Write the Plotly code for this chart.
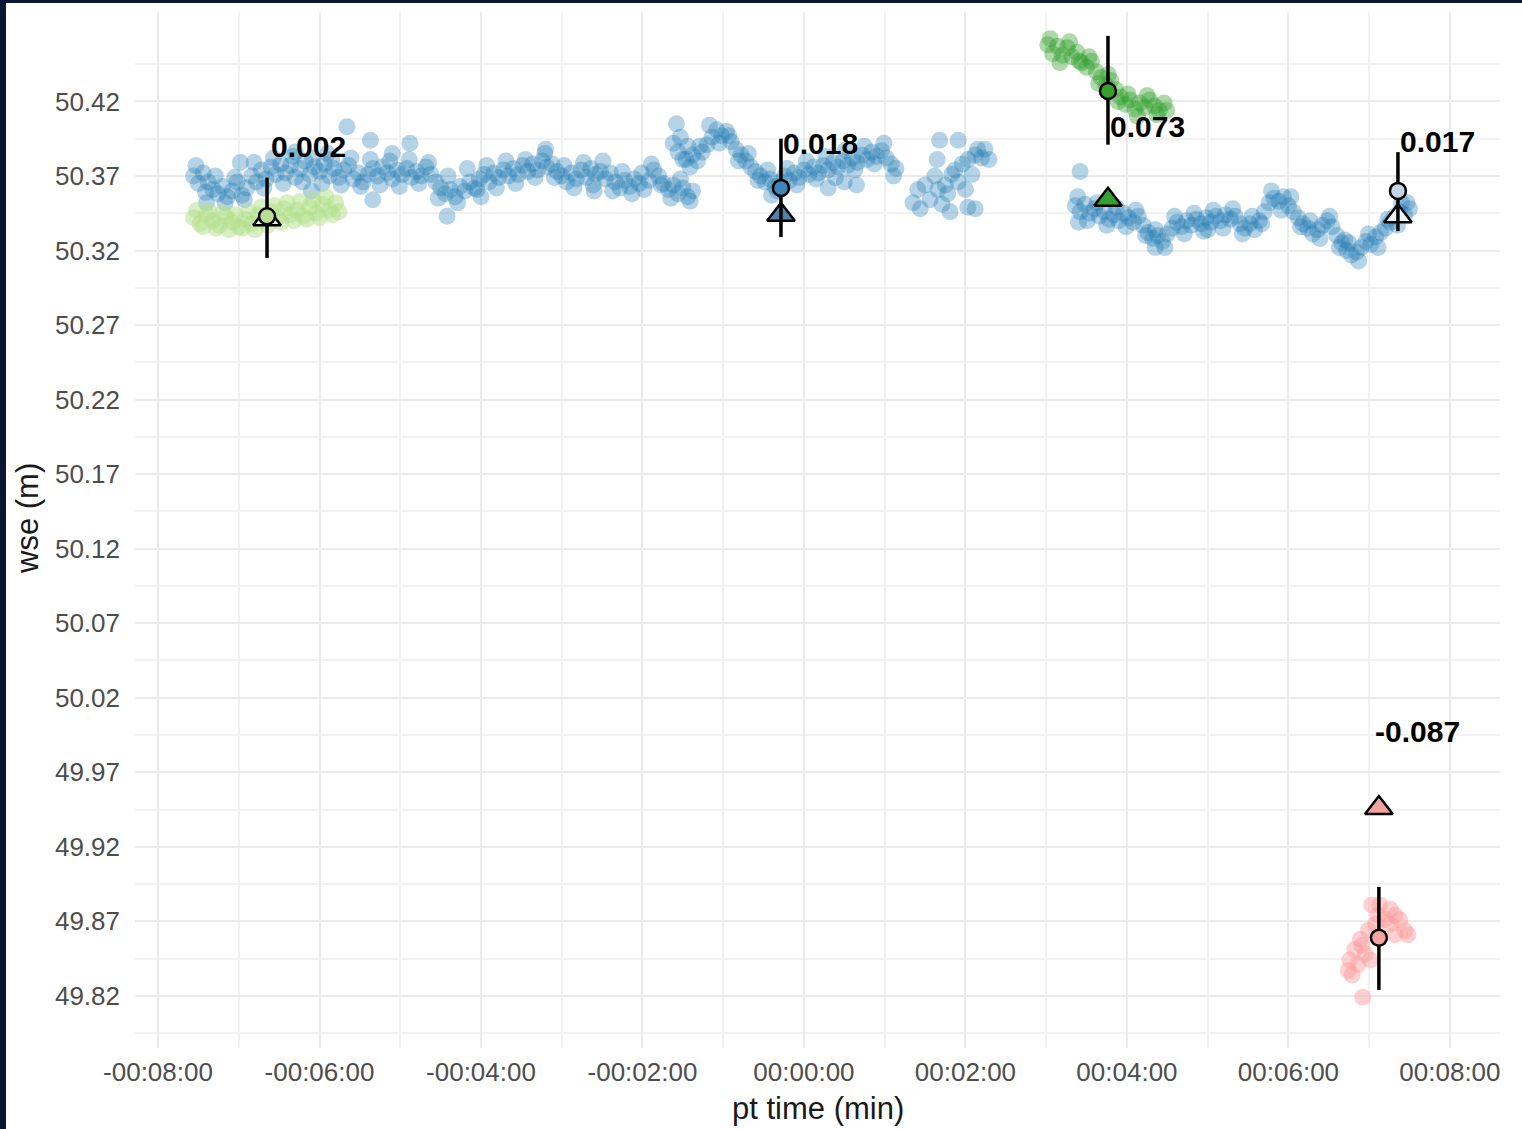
import plotly.graph_objects as go

# ---- pt time (minutes) and water surface elevation (m) samples ----
blue_t = [
    -7.56, -7.50, -7.44, -7.38, -7.32, -7.26, -7.20, -7.14, -7.08, -7.02,
    -6.96, -6.90, -6.84, -6.78, -6.72, -6.66, -6.60, -6.54, -6.48, -6.42,
    -6.36, -6.30, -6.24, -6.18, -6.12, -6.06, -6.00, -5.94, -5.88, -5.82,
    -5.76, -5.70, -5.64, -5.58, -5.52, -5.46, -5.40, -5.34, -5.28, -5.22,
    -5.16, -5.10, -5.04, -4.98, -4.92, -4.86, -4.80, -4.74, -4.68, -4.62,
    -4.56, -4.50, -4.44, -4.38, -4.32, -4.26, -4.20, -4.14, -4.08, -4.02,
    -3.96, -3.90, -3.84, -3.78, -3.72, -3.66, -3.60, -3.54, -3.48, -3.42,
    -3.36, -3.30, -3.24, -3.18, -3.12, -3.06, -3.00, -2.94, -2.88, -2.82,
    -2.76, -2.70, -2.64, -2.58, -2.52, -2.46, -2.40, -2.34, -2.28, -2.22,
    -2.16, -2.10, -2.04, -1.98, -1.92, -1.86, -1.80, -1.74, -1.68, -1.62,
    -1.56, -1.50, -1.44, -1.38,
    -6.98, -5.66, -5.37, -4.88, -5.34, -4.42, -6.30, -5.90, -4.00, -3.20,
    -2.60, -7.40, -6.10, -5.10,
    -7.53, -7.41, -7.29, -7.17, -7.05, -6.93, -6.81, -6.69, -6.57, -6.45,
    -6.33, -6.21, -6.09, -5.97, -5.85, -5.73, -5.61, -5.49, -5.37, -5.25,
    -5.13, -5.01, -4.89, -4.77, -4.65, -4.53, -4.41, -4.29, -4.17, -4.05,
    -3.93, -3.81, -3.69, -3.57, -3.45, -3.33, -3.21, -3.09, -2.97, -2.85,
    -2.73, -2.61, -2.49, -2.37, -2.25, -2.13, -2.01, -1.89, -1.77, -1.65,
    -1.53, -1.41,
    -1.62, -1.58, -1.56, -1.50, -1.46, -1.44, -1.38, -1.32, -1.26, -1.20,
    -1.14, -1.08, -1.02, -0.96, -0.90, -0.84, -0.78, -0.72, -0.66, -0.60,
    -0.54, -0.48, -0.42, -0.36, -0.30, -0.24, -0.18, -0.12, -0.06, 0.00,
    0.06, 0.12, 0.18, 0.24, 0.30, 0.36, 0.42, 0.48, 0.54, 0.60,
    0.66, 0.72, 0.78, 0.84, 0.90, 0.96, 1.02, 1.08, 1.14,
    -0.40, 0.30, 0.50, 0.65,
    -1.53, -1.41, -1.29, -1.17, -1.05, -0.93, -0.81, -0.69, -0.57, -0.45,
    -0.33, -0.21, -0.09, 0.03, 0.15, 0.27, 0.39, 0.51, 0.63, 0.75,
    0.87, 0.99, 1.11,
    1.35, 1.44, 1.50, 1.56, 1.62, 1.66, 1.71, 1.75, 1.78, 1.83,
    1.87, 1.91, 1.96, 2.00, 2.03, 2.08, 2.12, 2.15, 2.20, 2.24,
    2.29, 1.68, 1.91, 1.65, 2.03, 2.12, 1.81, 1.41,
    3.36, 3.42, 3.48, 3.54, 3.60, 3.66, 3.72, 3.78, 3.84, 3.90,
    3.96, 4.02, 4.08, 4.14, 4.20, 4.26, 4.32, 4.38, 4.44, 4.50,
    4.56, 4.62, 4.68, 4.74, 4.80, 4.86, 4.92, 4.98, 5.04, 5.10,
    5.16, 5.22, 5.28, 5.34, 5.40, 5.46, 5.52, 5.58, 5.64, 5.70,
    5.76, 5.82, 5.88, 5.94, 6.00, 6.06, 6.12, 6.18, 6.24, 6.30,
    6.36, 6.42, 6.48, 6.54, 6.60, 6.66, 6.72, 6.78, 6.84, 6.90,
    6.96, 7.02, 7.08, 7.14, 7.20, 7.26, 7.32, 7.38, 7.44, 7.50,
    3.42, 7.40, 3.40, 4.35, 5.00, 6.70,
    3.39, 3.51, 3.63, 3.75, 3.87, 3.99, 4.11, 4.23, 4.35, 4.47,
    4.59, 4.71, 4.83, 4.95, 5.07, 5.19, 5.31, 5.43, 5.55, 5.67,
    5.79, 5.91, 6.03, 6.15, 6.27, 6.39, 6.51, 6.63, 6.75, 6.87,
    6.99, 7.11, 7.23, 7.35, 7.47,
]
blue_wse = [
    50.370, 50.365, 50.372, 50.366, 50.361, 50.358, 50.363, 50.356, 50.360, 50.366,
    50.357, 50.362, 50.370, 50.366, 50.374, 50.368, 50.376, 50.371, 50.378, 50.372,
    50.377, 50.369, 50.375, 50.380, 50.371, 50.376, 50.373, 50.378, 50.370, 50.375,
    50.369, 50.374, 50.377, 50.368, 50.372, 50.366, 50.371, 50.375, 50.370, 50.376,
    50.372, 50.368, 50.374, 50.371, 50.375, 50.369, 50.373, 50.370, 50.376, 50.371,
    50.366, 50.362, 50.358, 50.361, 50.356, 50.363, 50.360, 50.366, 50.362, 50.368,
    50.371, 50.366, 50.372, 50.369, 50.374, 50.370, 50.375, 50.371, 50.377, 50.373,
    50.378, 50.374, 50.380, 50.376, 50.378, 50.373, 50.370, 50.366, 50.372, 50.368,
    50.374, 50.369, 50.375, 50.371, 50.373, 50.368, 50.372, 50.366, 50.362, 50.367,
    50.363, 50.368, 50.365, 50.361, 50.367, 50.374, 50.370, 50.365, 50.361, 50.364,
    50.358, 50.362, 50.356, 50.360,
    50.379, 50.403, 50.394, 50.392, 50.354, 50.343, 50.386, 50.385, 50.356, 50.388,
    50.360, 50.352, 50.360, 50.385,
    50.377, 50.359, 50.370, 50.352, 50.369, 50.354, 50.379, 50.362, 50.382, 50.365,
    50.383, 50.366, 50.382, 50.365, 50.381, 50.364, 50.382, 50.363, 50.381, 50.364,
    50.380, 50.363, 50.381, 50.365, 50.379, 50.355, 50.370, 50.352, 50.375, 50.361,
    50.377, 50.362, 50.380, 50.365, 50.381, 50.369, 50.385, 50.369, 50.377, 50.362,
    50.379, 50.364, 50.380, 50.360, 50.373, 50.358, 50.372, 50.378, 50.364, 50.355,
    50.368, 50.353,
    50.392, 50.405, 50.386, 50.381, 50.381, 50.390, 50.384, 50.380, 50.386, 50.391,
    50.396, 50.401, 50.397, 50.400, 50.393, 50.388, 50.384, 50.380, 50.376, 50.373,
    50.370, 50.366, 50.368, 50.363, 50.366, 50.370, 50.367, 50.372, 50.369, 50.374,
    50.371, 50.376, 50.372, 50.377, 50.374, 50.379, 50.376, 50.380, 50.377, 50.382,
    50.379, 50.384, 50.381, 50.386, 50.383, 50.387, 50.382, 50.378, 50.375,
    50.357, 50.362, 50.366, 50.364,
    50.396, 50.376, 50.390, 50.404, 50.392, 50.397, 50.380, 50.385, 50.367, 50.374,
    50.360, 50.375, 50.364, 50.380, 50.368, 50.383, 50.369, 50.387, 50.374, 50.390,
    50.378, 50.392, 50.370,
    50.352, 50.348, 50.364, 50.354, 50.370, 50.361, 50.351, 50.364, 50.358, 50.371,
    50.374, 50.366, 50.378, 50.361, 50.381, 50.371, 50.384, 50.388, 50.382, 50.388,
    50.381, 50.394, 50.394, 50.381, 50.349, 50.348, 50.346, 50.361,
    50.350, 50.346, 50.351, 50.345, 50.348, 50.343, 50.346, 50.341, 50.344, 50.340,
    50.345, 50.342, 50.339, 50.343, 50.337, 50.332, 50.328, 50.330, 50.326, 50.331,
    50.335, 50.339, 50.336, 50.340, 50.337, 50.341, 50.338, 50.342, 50.339, 50.343,
    50.340, 50.344, 50.341, 50.343, 50.338, 50.335, 50.338, 50.334, 50.340, 50.346,
    50.352, 50.355, 50.353, 50.356, 50.350, 50.346, 50.342, 50.338, 50.335, 50.331,
    50.334, 50.337, 50.340, 50.336, 50.330, 50.325, 50.320, 50.317, 50.319, 50.322,
    50.326, 50.324, 50.329, 50.332, 50.335, 50.339, 50.343, 50.346, 50.344, 50.348,
    50.373, 50.352, 50.339, 50.322, 50.334, 50.327,
    50.356, 50.340, 50.352, 50.337, 50.349, 50.336, 50.347, 50.330, 50.334, 50.322,
    50.343, 50.331, 50.345, 50.333, 50.347, 50.335, 50.348, 50.331, 50.343, 50.338,
    50.360, 50.347, 50.356, 50.336, 50.340, 50.328, 50.343, 50.322, 50.325, 50.313,
    50.331, 50.322, 50.341, 50.337, 50.352,
]

lightgreen_t = [
    -7.56, -7.48, -7.40, -7.32, -7.24, -7.16, -7.08, -7.00, -6.92, -6.84,
    -6.76, -6.68, -6.60, -6.52, -6.44, -6.36, -6.28, -6.20, -6.12, -6.04,
    -5.96, -5.88, -5.80, -5.76,
    -7.52, -7.44, -7.36, -7.28, -7.20, -7.12, -7.04, -6.96, -6.88, -6.80,
    -6.72, -6.64, -6.56, -6.48, -6.40, -6.32, -6.24, -6.16, -6.08, -6.00,
    -5.92, -5.84,
]
lightgreen_wse = [
    50.342, 50.338, 50.344, 50.340, 50.337, 50.343, 50.339, 50.336, 50.341, 50.338,
    50.344, 50.340, 50.346, 50.342, 50.348, 50.344, 50.347, 50.343, 50.349, 50.345,
    50.351, 50.347, 50.352, 50.346,
    50.347, 50.336, 50.346, 50.335, 50.345, 50.334, 50.344, 50.335, 50.346, 50.334,
    50.349, 50.337, 50.350, 50.339, 50.352, 50.340, 50.353, 50.341, 50.354, 50.342,
    50.356, 50.344,
]

green_t = [
    3.02, 3.08, 3.14, 3.20, 3.26, 3.32, 3.38, 3.44, 3.50, 3.56,
    3.62, 3.68, 3.74, 3.80, 3.86, 3.92, 3.98, 4.04, 4.10, 4.16,
    4.22, 4.28, 4.34, 4.40, 4.46,
    3.05, 3.17, 3.29, 3.41, 3.53, 3.65, 3.77, 3.89, 4.01, 4.13,
    4.25, 4.37, 4.49,
]
green_wse = [
    50.458, 50.452, 50.457, 50.451, 50.456, 50.450, 50.453, 50.446, 50.443, 50.447,
    50.440, 50.436, 50.431, 50.434, 50.428, 50.423, 50.418, 50.421, 50.415, 50.419,
    50.416, 50.421, 50.417, 50.414, 50.419,
    50.462, 50.446, 50.460, 50.447, 50.450, 50.432, 50.438, 50.420, 50.425, 50.410,
    50.424, 50.411, 50.414,
]

pink_t = [
    7.03, 7.13, 7.26, 7.32, 7.38, 7.44, 7.48, 7.20, 7.08, 6.99,
    6.89, 6.82, 6.76, 6.74, 6.79, 6.86, 6.95, 6.91, 7.01, 6.92,
    7.26, 7.11, 7.32,
]
pink_wse = [
    49.881, 49.881, 49.878, 49.874, 49.871, 49.864, 49.861, 49.871, 49.868, 49.864,
    49.858, 49.851, 49.844, 49.837, 49.834, 49.841, 49.848, 49.854, 49.844, 49.819,
    49.868, 49.874, 49.861,
]

# ---- per-pass summaries: mean wse with spread, and reference wse ----
summary_t = [-6.65, -0.285, 3.765, 7.356, 7.12]
mean_wse = [50.343, 50.362, 50.427, 50.360, 49.859]
mean_lo = [50.315, 50.329, 50.391, 50.333, 49.824]
mean_hi = [50.369, 50.395, 50.464, 50.386, 49.893]
ref_wse = [50.341, 50.344, 50.354, 50.343, 49.946]
label_t = [-6.625, -0.285, 3.765, 7.356, 7.05]
label_wse = [50.390, 50.392, 50.403, 50.393, 49.997]

# ---- axis ticks ----
x_tick_vals = [-8, -6, -4, -2, 0, 2, 4, 6, 8]
x_tick_text = ["-00:08:00", "-00:06:00", "-00:04:00", "-00:02:00", "00:00:00",
               "00:02:00", "00:04:00", "00:06:00", "00:08:00"]
y_tick_vals = [49.82, 49.87, 49.92, 49.97, 50.02, 50.07, 50.12, 50.17,
               50.22, 50.27, 50.32, 50.37, 50.42]

# ---- styling ----
BLUE, LIGHTGREEN, GREEN, PINK = "#1F78B4", "#B2DF8A", "#33A02C", "#FB9A99"
mean_fill = ["#B8DE95", "#3D86BC", "#36A02F", "#C3D6E6", "#F3A5A5"]
ref_fill = ["#E6F3DA", "#4F83AD", "#36A02F", "#EEF3F7", "#F4A3A3"]

W, H = 1522, 1129
M = dict(l=135, r=22, t=12, b=81)
PW, PH = W - M["l"] - M["r"], H - M["t"] - M["b"]


def px_x(px):
    return (px - M["l"]) / PW


def px_y(py):
    return (H - M["b"] - py) / PH


FONT = "Liberation Sans, Arial, Helvetica, sans-serif"

fig = go.Figure()

for t, w, c, op in [(blue_t, blue_wse, BLUE, 0.33), (lightgreen_t, lightgreen_wse, LIGHTGREEN, 0.5),
                    (green_t, green_wse, GREEN, 0.4), (pink_t, pink_wse, PINK, 0.45)]:
    fig.add_trace(go.Scatter(
        x=t, y=w, mode="markers",
        marker=dict(color=c, size=17, opacity=op, line=dict(width=0)),
        hoverinfo="skip",
    ))

# reference values (triangles)
fig.add_trace(go.Scatter(
    x=summary_t, y=ref_wse, mode="markers",
    marker=dict(symbol="triangle-up", size=24, color=ref_fill,
                line=dict(color="black", width=2.5)),
    hoverinfo="skip",
))

# spread of each pass (vertical bars)
fig.add_trace(go.Scatter(
    x=summary_t, y=mean_wse, mode="markers",
    marker=dict(size=1, color="rgba(0,0,0,0)"),
    error_y=dict(type="data", symmetric=False,
                 array=[h - m for h, m in zip(mean_hi, mean_wse)],
                 arrayminus=[m - l for m, l in zip(mean_wse, mean_lo)],
                 color="black", thickness=3.5, width=0),
    hoverinfo="skip",
))

# pass means (circles)
fig.add_trace(go.Scatter(
    x=summary_t, y=mean_wse, mode="markers",
    marker=dict(symbol="circle", size=16, color=mean_fill,
                line=dict(color="black", width=2.5)),
    hoverinfo="skip",
))

# difference labels: mean minus reference
for lt, lw, m, r in zip(label_t, label_wse, mean_wse, ref_wse):
    fig.add_annotation(
        x=lt, y=lw, xref="x", yref="y", text=f"<b>{m - r:.3f}</b>",
        showarrow=False, xanchor="left", yanchor="middle",
        font=dict(family=FONT, size=30, color="black"),
    )

# axis titles
fig.add_annotation(x=0.5, y=px_y(1108), xref="paper", yref="paper",
                   text="pt time (min)", showarrow=False,
                   xanchor="center", yanchor="middle",
                   font=dict(family=FONT, size=31, color="#1A1A1A"))
fig.add_annotation(x=px_x(27), y=px_y(519), xref="paper", yref="paper",
                   text="wse (m)", showarrow=False, textangle=-90,
                   xanchor="center", yanchor="middle",
                   font=dict(family=FONT, size=31, color="#1A1A1A"))

# dark frame along the left and top edges
fig.add_shape(type="rect", xref="paper", yref="paper", layer="above",
              x0=px_x(0), x1=px_x(6), y0=px_y(H), y1=px_y(0),
              fillcolor="#0B1633", line=dict(width=0))
fig.add_shape(type="rect", xref="paper", yref="paper", layer="above",
              x0=px_x(0), x1=px_x(W), y0=px_y(3), y1=px_y(0),
              fillcolor="#0B1633", line=dict(width=0))

fig.update_layout(
    width=W, height=H, margin=M,
    plot_bgcolor="white", paper_bgcolor="white",
    showlegend=False,
    font=dict(family=FONT),
)
fig.update_xaxes(
    range=[-8.285, 8.62], tickmode="array", tickvals=x_tick_vals, ticktext=x_tick_text,
    showgrid=True, gridcolor="#EBEBEB", gridwidth=2,
    minor=dict(tickmode="linear", tick0=-7, dtick=2, showgrid=True,
               gridcolor="#F2F2F2", gridwidth=1.5),
    zeroline=False, showline=False, ticks="", ticklabelstandoff=6,
    tickfont=dict(family=FONT, size=26, color="#4D4D4D"),
)
fig.update_yaxes(
    range=[49.785, 50.48], tickmode="array", tickvals=y_tick_vals,
    ticktext=[f"{v:.2f}" for v in y_tick_vals],
    showgrid=True, gridcolor="#EBEBEB", gridwidth=2,
    minor=dict(tickmode="linear", tick0=49.795, dtick=0.05, showgrid=True,
               gridcolor="#F2F2F2", gridwidth=1.5),
    zeroline=False, showline=False, ticks="", ticklabelstandoff=14,
    tickfont=dict(family=FONT, size=26, color="#4D4D4D"),
)

fig.write_html("out.html")
